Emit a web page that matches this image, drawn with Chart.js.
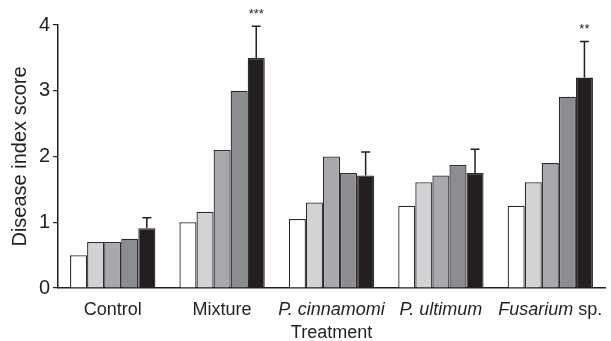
<!DOCTYPE html>
<html>
<head>
<meta charset="utf-8">
<script src="https://cdn.jsdelivr.net/npm/chart.js@4.4.1/dist/chart.umd.min.js"></script>
<style>
    html, body { margin: 0; padding: 0; background: #fff; }
    #wrap { width: 611px; height: 341px; }
</style>
</head>
<body>
<div id="wrap"><canvas id="chart"></canvas></div>
<script>
// ------------------------------
// Data
// ------------------------------
const categories = ['Control', 'Mixture', 'P. cinnamomi', 'P. ultimum', 'Fusarium sp.'];
// label pieces: [text, italic]
const labelParts = [
    [['Control', false]],
    [['Mixture', false]],
    [['P. cinnamomi', true]],
    [['P. ultimum', true]],
    [['Fusarium', true], [' sp.', false]]
];
const series1 = [0.50, 1.00, 1.05, 1.25, 1.25];
const series2 = [0.70, 1.16, 1.30, 1.61, 1.61];
const series3 = [0.70, 2.10, 2.00, 1.71, 1.90];
const series4 = [0.75, 3.00, 1.75, 1.87, 2.91];
const series5 = [0.91, 3.50, 1.71, 1.75, 3.20];
const series5ErrTop = [1.07, 3.98, 2.07, 2.11, 3.75]; // upper end of error bar
const significance = ['', '***', '', '', '**'];
const yTicks = [0, 1, 2, 3, 4];

const fills = ['#ffffff', '#d1d3d4', '#a7a9ac', '#8b8d90', '#231f20'];
const ink = '#231f20';
const FONT = '"Liberation Sans", Arial, Helvetica, sans-serif';

// ------------------------------
// Error bars, stars and x labels
// ------------------------------
const extrasPlugin = {
    id: 'extras',
    afterDatasetsDraw(chart) {
        const ctx = chart.ctx;
        const yScale = chart.scales.y;
        const xScale = chart.scales.x;
        const meta = chart.getDatasetMeta(4);

        ctx.save();
        ctx.strokeStyle = ink;
        ctx.lineWidth = 1.5;
        meta.data.forEach((bar, i) => {
            const yErr = yScale.getPixelForValue(series5ErrTop[i]);
            ctx.beginPath();
            ctx.moveTo(bar.x, bar.y);
            ctx.lineTo(bar.x, yErr);
            ctx.moveTo(bar.x - 4.5, yErr);
            ctx.lineTo(bar.x + 4.5, yErr);
            ctx.stroke();

            if (significance[i]) {
                ctx.fillStyle = ink;
                ctx.font = '13px ' + FONT;
                ctx.textAlign = 'center';
                ctx.textBaseline = 'middle';
                ctx.fillText(significance[i], bar.x, yErr - 12);
            }
        });

        // category labels with mixed italic
        ctx.fillStyle = ink;
        ctx.textBaseline = 'alphabetic';
        ctx.textAlign = 'left';
        labelParts.forEach((parts, i) => {
            let total = 0;
            const widths = parts.map(([t, it]) => {
                ctx.font = (it ? 'italic ' : '') + '18px ' + FONT;
                const w = ctx.measureText(t).width;
                total += w;
                return w;
            });
            let x = xScale.getPixelForValue(i) - total / 2;
            parts.forEach(([t, it], k) => {
                ctx.font = (it ? 'italic ' : '') + '18px ' + FONT;
                ctx.fillText(t, x, 315);
                x += widths[k];
            });
        });

        // axis title
        ctx.font = '18px ' + FONT;
        ctx.textAlign = 'center';
        ctx.fillText('Treatment', (chart.chartArea.left + chart.chartArea.right) / 2, 338);
        ctx.restore();
    }
};

const datasets = [series1, series2, series3, series4, series5].map((d, i) => ({
    label: 'Series ' + (i + 1),
    data: d,
    backgroundColor: fills[i],
    borderColor: '#2e2b2c',
    borderWidth: 1.3,
    borderSkipped: 'bottom'
}));

new Chart(document.getElementById('chart'), {
    type: 'bar',
    data: { labels: categories, datasets: datasets },
    options: {
        responsive: true,
        maintainAspectRatio: false,
        animation: false,
        layout: { padding: { top: 25, right: 6, left: 0, bottom: 0 } },
        plugins: { legend: { display: false }, tooltip: { enabled: false } },
        datasets: { bar: { categoryPercentage: 0.78, barPercentage: 1.0 } },
        scales: {
            x: {
                ticks: { display: false },
                grid: { drawOnChartArea: false, drawTicks: false },
                border: { display: true, color: ink, width: 1.5 },
                afterFit(scale) { scale.height = 53; }
            },
            y: {
                min: 0,
                max: 4,
                afterBuildTicks(scale) { scale.ticks = yTicks.map(v => ({ value: v })); },
                ticks: { color: ink, padding: 3, font: { family: FONT, size: 20 } },
                grid: { drawOnChartArea: false, drawTicks: true, tickLength: 5, color: ink, lineWidth: 1.2 },
                border: { display: true, color: ink, width: 1.5 },
                title: {
                    display: true,
                    text: 'Disease index score',
                    color: ink,
                    font: { family: FONT, size: 20 },
                    padding: { top: 8, bottom: 0 }
                },
                afterFit(scale) { scale.width = 58; }
            }
        }
    },
    plugins: [extrasPlugin]
});
</script>
</body>
</html>
